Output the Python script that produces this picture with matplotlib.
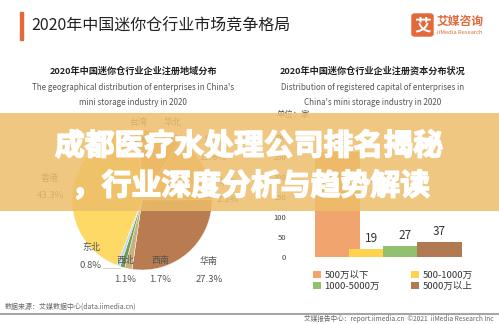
import matplotlib
matplotlib.use("Agg")
import matplotlib.pyplot as plt
import matplotlib.patheffects as pe
from matplotlib.lines import Line2D
from matplotlib.patches import Rectangle, FancyBboxPatch

plt.rcParams['font.family'] = ['Noto Sans CJK SC', 'DejaVu Sans']

W, H = 499, 324

# pie: registered region of enterprises (%)
regions = ["台湾", "华北", "华东", "华中", "华南", "西南", "西北", "东北", "香港"]
region_share = [0.2, 9.7, 13.6, 2.3, 27.3, 1.7, 1.1, 0.8, 43.3]
region_colors = ["#C9C9C9", "#F0A050", "#F4B97A", "#E9A64F", "#B97B50",
                 "#C8B27A", "#6E9E5A", "#BDD7EE", "#FFD966"]

# bars: registered capital (count of enterprises)
capital_bins = ["500万以下", "500-1000万", "1000-5000万", "5000万以上"]
capital_counts = [263, 19, 27, 37]
capital_colors = ["#F2A46E", "#FFD24F", "#93C06F", "#B27A52"]


def fx(px):
    return px / W


def fy(py):
    return 1 - py / H


fig = plt.figure(figsize=(W / 100, H / 100), dpi=100)
fig.patch.set_facecolor("white")

# header
fig.patches.append(Rectangle((fx(20), fy(40)), 3 / W, 28 / H, transform=fig.transFigure,
                             color="#E2693A"))
fig.text(fx(31), fy(26), "2020年中国迷你仓行业市场竞争格局", fontsize=11.5,
         va="center", color="#222222")
fig.patches.append(FancyBboxPatch((fx(412), fy(36)), 21 / W, 22 / H,
                                  boxstyle="round,pad=0,rounding_size=0.006",
                                  transform=fig.transFigure, color="#E2693A"))
fig.text(fx(422.5), fy(25), "艾", fontsize=12, weight="bold", color="white",
         ha="center", va="center")
fig.text(fx(437), fy(21), "艾媒咨询", fontsize=8.5, weight="bold", color="#E2693A",
         va="center")
fig.text(fx(437), fy(32), "iiMedia Research", fontsize=4.2, color="#E2693A", va="center")

# sub titles
fig.text(fx(133), fy(71), "2020年中国迷你仓行业企业注册地域分布", fontsize=6.6,
         weight="bold", ha="center", va="center", color="#222222")
fig.text(fx(133), fy(88), "The geographical distribution of enterprises in China's",
         fontsize=5.8, ha="center", va="center", color="#555555")
fig.text(fx(133), fy(102), "mini storage industry in 2020",
         fontsize=5.8, ha="center", va="center", color="#555555")
fig.text(fx(373), fy(71), "2020年中国迷你仓行业企业注册资本分布状况", fontsize=6.6,
         weight="bold", ha="center", va="center", color="#222222")
fig.text(fx(373), fy(88), "Distribution of registered capital of enterprises in",
         fontsize=5.8, ha="center", va="center", color="#555555")
fig.text(fx(373), fy(102), "China's mini storage industry in 2020",
         fontsize=5.8, ha="center", va="center", color="#555555")

# pie
ax1 = fig.add_axes([fx(72), fy(270), 140 / W, 140 / H])
ax1.pie(region_share, colors=region_colors, startangle=93, counterclock=False,
        wedgeprops=dict(linewidth=0.3, edgecolor="white"))
ax1.set_xlim(-1, 1)
ax1.set_ylim(-1, 1)

label_pos = {"台湾": (138, 122), "华北": (173, 122), "华东": (213, 140),
             "华中": (228, 182), "华南": (209, 261), "西南": (160, 261),
             "西北": (125, 261), "东北": (91, 247), "香港": (50, 178)}
for name, share in zip(regions, region_share):
    x, y = label_pos[name]
    fig.text(fx(x), fy(y), name, fontsize=6.5, ha="center", va="center", color="#555555")
    fig.text(fx(x), fy(y + 18), f"{share:.1f}%", fontsize=6.8, ha="center", va="center",
             color="#555555")
fig.lines.append(Line2D([fx(103), fx(120)], [fy(268), fy(268)], transform=fig.transFigure,
                        color="#BFBFBF", linewidth=0.5))

# bars
ax2 = fig.add_axes([fx(300), fy(257), 170 / W, 120 / H])
bars = ax2.bar(range(len(capital_counts)), capital_counts, width=1.32, color=capital_colors)
for i, v in enumerate(capital_counts):
    ax2.annotate(str(v), (i, v), xytext=(0, 3), textcoords="offset points",
                 ha="center", va="bottom", fontsize=8.5, color="#333333")
ax2.set_xlim(-1.1, 3.9)
ax2.set_ylim(0, 300)
ax2.set_yticks(range(0, 301, 50))
ax2.set_xticks([])
ax2.tick_params(axis="y", length=0, labelsize=5.5, labelcolor="#404040", pad=10)
for s in ax2.spines.values():
    s.set_visible(False)
fig.text(fx(293), fy(114), "单位：家", fontsize=6, ha="center", va="center",
         color="#555555")

order = [0, 2, 1, 3]
fig.legend([bars[i] for i in order], [capital_bins[i] for i in order], ncol=2,
           loc="upper left", bbox_to_anchor=(fx(313), fy(271)), frameon=False,
           fontsize=6.8, handlelength=0.8, handleheight=0.8, handletextpad=0.4,
           columnspacing=3.3, labelspacing=0.15, borderpad=0, borderaxespad=0,
           labelcolor="#333333")

# banner
fig.patches.append(Rectangle((0, fy(211)), 1, 98 / H, transform=fig.transFigure,
                             facecolor="#EDBE6A", alpha=0.85, zorder=5))
heavy = [pe.withStroke(linewidth=1.1, foreground="white")]
fig.text(fx(249), fy(146), "成都医疗水处理公司排名揭秘", fontsize=21.5, weight="heavy",
         color="white", ha="center", va="center", zorder=6, path_effects=heavy)
fig.text(fx(251), fy(186), "，行业深度分析与趋势解读", fontsize=21.5, weight="heavy",
         color="white", ha="center", va="center", zorder=6, path_effects=heavy)

# footer
fig.text(fx(5), fy(307), "数据来源：艾媒数据中心(data.iimedia.cn)", fontsize=5,
         va="center", color="#666666")
fig.lines.append(Line2D([0, 1], [fy(313.5), fy(313.5)], transform=fig.transFigure,
                        color="#A6A6A6", linewidth=1.5))
fig.text(fx(494), fy(318.5), "艾媒报告中心：report.iimedia.cn  ©2021  iiMedia Research Inc",
         fontsize=4.8, ha="right", va="center", color="#666666")

fig.savefig("out.png", dpi=100)
